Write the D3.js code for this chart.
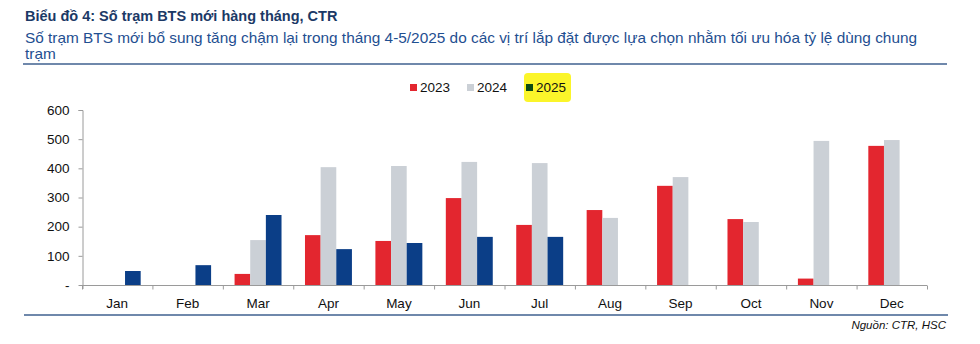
<!DOCTYPE html>
<html>
<head>
<meta charset="utf-8">
<script src="https://cdn.jsdelivr.net/npm/d3@7"></script>
<style>
  body { margin: 0; background: #fff; }
  svg text { font-family: "Liberation Sans", Arial, sans-serif; }
</style>
</head>
<body>
<div id="chart"></div>
<script>
// chart data
var months = ["Jan", "Feb", "Mar", "Apr", "May", "Jun", "Jul", "Aug", "Sep", "Oct", "Nov", "Dec"];
var years = ["2023", "2024", "2025"];
var values2023 = [null, null, 38, 171, 151, 298, 206, 257, 340, 226, 22, 477];
var values2024 = [null, null, 154, 404, 408, 422, 418, 230, 370, 216, 494, 497];
var values2025 = [48, 68, 240, 123, 144, 165, 165, null, null, null, null, null];
var yTicks = [0, 100, 200, 300, 400, 500, 600];

var svgWidth = 980;
var svgHeight = 344;

var svg = d3.select("#chart")
  .append("svg")
  .attr("width", svgWidth)
  .attr("height", svgHeight);

// titles
svg.append("text")
  .attr("x", 25)
  .attr("y", 21)
  .attr("font-size", "14.5px")
  .attr("font-weight", "bold")
  .attr("fill", "#1b3966")
  .text("Biểu đồ 4: Số trạm BTS mới hàng tháng, CTR");

var sub = svg.append("text")
  .attr("x", 25)
  .attr("y", 43)
  .attr("font-size", "15px")
  .attr("fill", "#1f4f91")
  .text("Số trạm BTS mới bổ sung tăng chậm lại trong tháng 4-5/2025 do các vị trí lắp đặt được lựa chọn nhằm tối ưu hóa tỷ lệ dùng chung");
var subW = sub.node().getComputedTextLength();
sub.attr("font-size", (15 * 893 / subW) + "px");

svg.append("text")
  .attr("x", 25)
  .attr("y", 59)
  .attr("font-size", (15 * 893 / subW) + "px")
  .attr("fill", "#1f4f91")
  .text("trạm");

svg.append("line")
  .attr("x1", 23).attr("x2", 947)
  .attr("y1", 64).attr("y2", 64)
  .attr("stroke", "#6f88ab")
  .attr("stroke-width", 2);

// scales
var x0 = d3.scaleBand()
  .domain(months)
  .range([82, 927])
  .padding(0);

var x1 = d3.scaleBand()
  .domain(years)
  .range([x0.bandwidth() / 6, x0.bandwidth() * 5 / 6])
  .padding(0);

var y = d3.scaleLinear()
  .domain([0, 600])
  .range([285, 110]);

var colors = { "2023": "#e3262f", "2024": "#cbd0d6", "2025": "#0b3e87" };

var rows = [];
months.forEach(function(m, i) {
  rows.push({ month: m, year: "2023", value: values2023[i] });
  rows.push({ month: m, year: "2024", value: values2024[i] });
  rows.push({ month: m, year: "2025", value: values2025[i] });
});

// bars
svg.append("g")
  .selectAll("rect")
  .data(rows.filter(function(d) { return d.value != null; }))
  .enter()
  .append("rect")
  .attr("x", d => x0(d.month) + x1(d.year))
  .attr("width", x1.bandwidth())
  .attr("y", d => y(d.value))
  .attr("height", d => y(0) - y(d.value))
  .attr("fill", d => colors[d.year]);

// axes
var leftAxis = d3.axisLeft(y)
  .tickValues(yTicks)
  .tickSize(4)
  .tickPadding(9)
  .tickFormat(d => d === 0 ? "-" : d);

var yAxis = svg.append("g")
  .attr("transform", "translate(82.5,0)")
  .call(leftAxis);
yAxis.select(".domain").attr("stroke", "#9a9a9a").attr("d", "M-4,110.5H0.5V289");
yAxis.selectAll(".tick line").attr("stroke", "#9a9a9a");
yAxis.selectAll("text").attr("font-size", "13.5px").attr("fill", "#111").attr("font-family", null);

var bottomAxis = d3.axisBottom(x0).tickSize(0).tickPadding(13);
var xAxis = svg.append("g")
  .attr("transform", "translate(0,285.5)")
  .call(bottomAxis);
xAxis.select(".domain").attr("stroke", "#9a9a9a").attr("d", "M82,0H927");
xAxis.selectAll("text").attr("font-size", "13.5px").attr("fill", "#111").attr("font-family", null);

// tick marks on band boundaries
xAxis.selectAll(".sep")
  .data(months.concat(["end"]))
  .enter()
  .append("line")
  .attr("x1", (d, i) => 82 + i * x0.step() + 0.5)
  .attr("x2", (d, i) => 82 + i * x0.step() + 0.5)
  .attr("y1", 0)
  .attr("y2", 4)
  .attr("stroke", "#9a9a9a");

// legend
svg.append("rect")
  .attr("x", 524).attr("y", 73)
  .attr("width", 47).attr("height", 29)
  .attr("rx", 4)
  .attr("fill", "#fbf52a");

var legendX = { "2023": 410, "2024": 467, "2025": 526 };
var legend = svg.append("g")
  .selectAll("g")
  .data(years)
  .enter()
  .append("g")
  .attr("transform", d => `translate(${legendX[d]},0)`);

legend.append("rect")
  .attr("x", 0).attr("y", 84)
  .attr("width", 7).attr("height", 7)
  .attr("fill", d => d === "2025" ? "#0b4a12" : colors[d]);

legend.append("text")
  .attr("x", 10)
  .attr("y", 92)
  .attr("font-size", "13.5px")
  .attr("fill", "#111")
  .text(d => d);

// footer
svg.append("line")
  .attr("x1", 24).attr("x2", 948)
  .attr("y1", 315).attr("y2", 315)
  .attr("stroke", "#6f88ab")
  .attr("stroke-width", 2);

svg.append("text")
  .attr("x", 946)
  .attr("y", 329)
  .attr("text-anchor", "end")
  .attr("font-size", "11.5px")
  .attr("font-style", "italic")
  .attr("fill", "#111")
  .text("Nguồn: CTR, HSC");
</script>
</body>
</html>
